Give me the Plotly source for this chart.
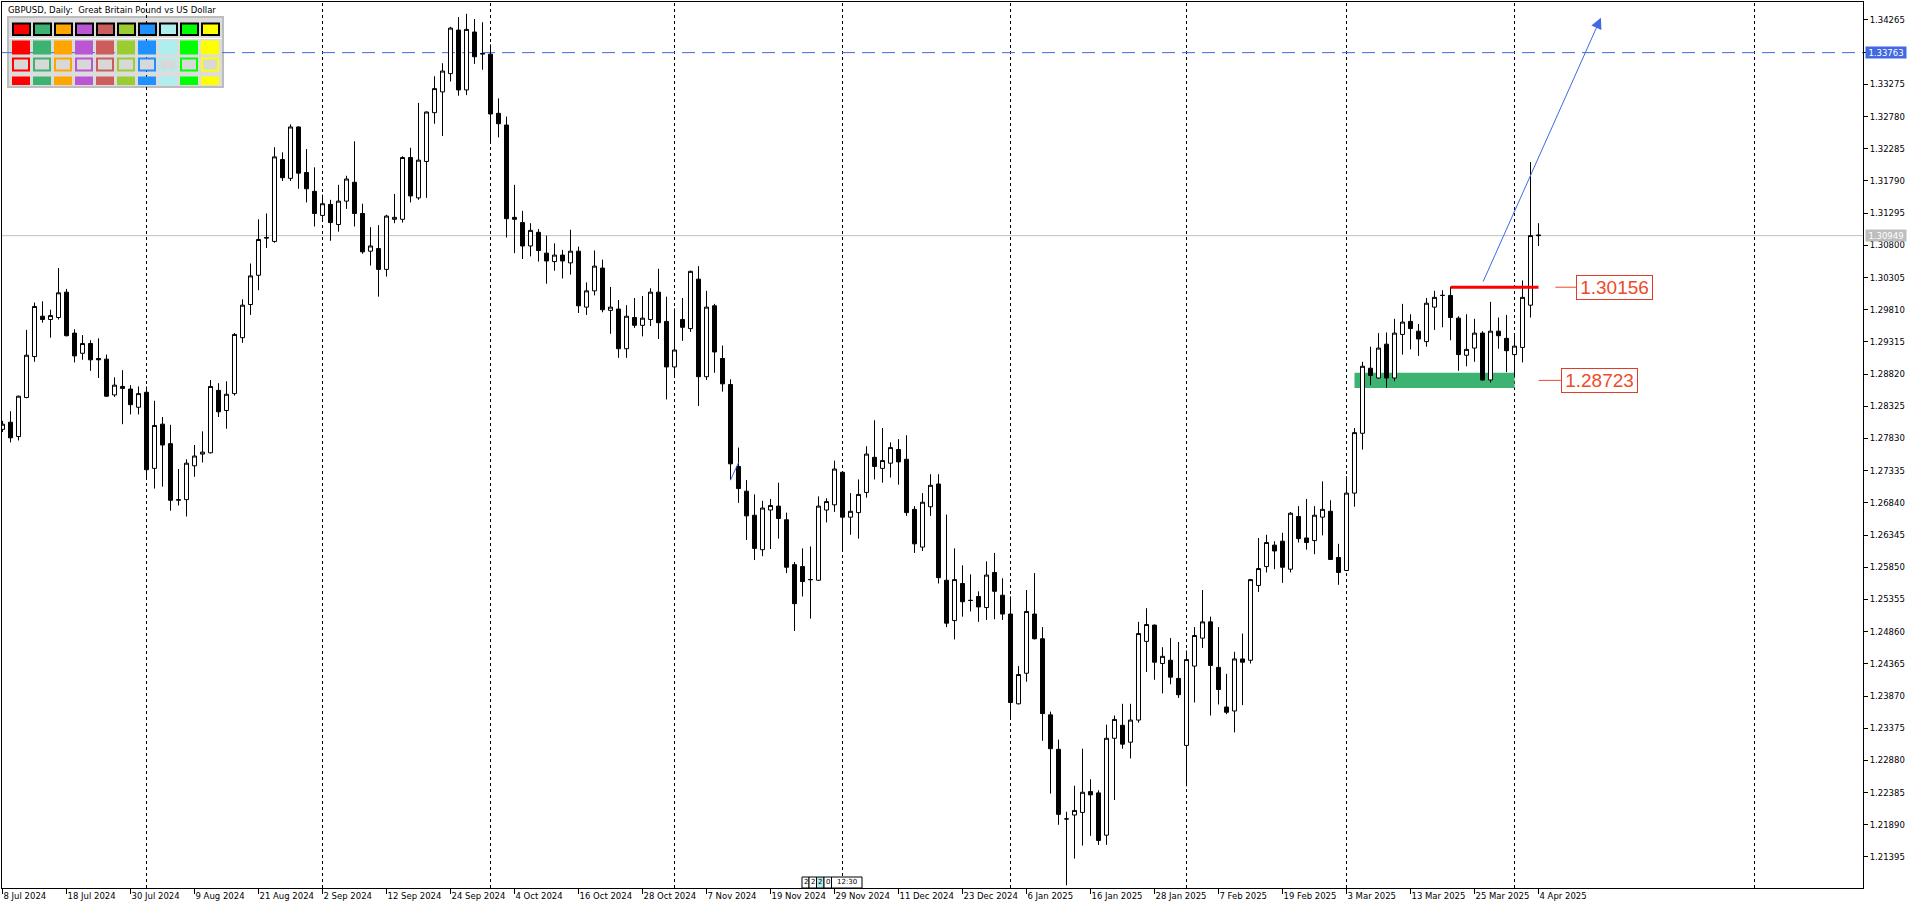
import pandas as pd
import plotly.graph_objects as go

# ---------------- data ----------------
symbol_title = "GBPUSD, Daily:  Great Britain Pound vs US Dollar"

opens = [1.2797, 1.2808, 1.2786, 1.2846, 1.2909, 1.2971, 1.2966, 1.2969, 1.3008, 1.2945,
         1.2914, 1.2929, 1.2906, 1.2905, 1.2850, 1.2863, 1.2859, 1.2831, 1.2854, 1.2737,
         1.2805, 1.2775, 1.2688, 1.2689, 1.2741, 1.2759, 1.2761, 1.2857, 1.2826, 1.2852,
         1.2938, 1.2989, 1.3034, 1.3091, 1.3086, 1.3212, 1.3183, 1.3262, 1.3192, 1.3163,
         1.3126, 1.3143, 1.3112, 1.3148, 1.3177, 1.3129, 1.3071, 1.3075, 1.3043, 1.3120,
         1.3120, 1.3215, 1.3153, 1.3209, 1.3284, 1.3316, 1.3344, 1.3411, 1.3319, 1.3408,
         1.3374, 1.3374, 1.3283, 1.3265, 1.3123, 1.3115, 1.3079, 1.3100, 1.3068, 1.3055,
         1.3065, 1.3053, 1.3071, 1.2985, 1.3010, 1.3045, 1.2980, 1.2982, 1.2921, 1.2969,
         1.2957, 1.2966, 1.3008, 1.2963, 1.2893, 1.2966, 1.2952, 1.3028, 1.2878, 1.2987,
         1.2906, 1.2866, 1.2740, 1.2702, 1.2665, 1.2612, 1.2673, 1.2679, 1.2658, 1.2589,
         1.2586, 1.2566, 1.2565, 1.2673, 1.2681, 1.2731, 1.2662, 1.2669, 1.2700, 1.2754,
         1.2737, 1.2745, 1.2766, 1.2751, 1.2674, 1.2616, 1.2678, 1.2713, 1.2565, 1.2503,
         1.2560, 1.2534, 1.2540, 1.2523, 1.2577, 1.2542, 1.2513, 1.2375, 1.2422, 1.2513,
         1.2475, 1.2358, 1.2305, 1.2198, 1.2204, 1.2208, 1.2240, 1.2238, 1.2173, 1.2322,
         1.2342, 1.2316, 1.2350, 1.2471, 1.2496, 1.2437, 1.2442, 1.2414, 1.2311, 1.2433,
         1.2476, 1.2501, 1.2431, 1.2370, 1.2364, 1.2444, 1.2442, 1.2557, 1.2586, 1.2619,
         1.2625, 1.2582, 1.2663, 1.2630, 1.2626, 1.2662, 1.2671, 1.2600, 1.2580, 1.2699,
         1.2791, 1.2891, 1.2876, 1.2928, 1.2876, 1.2943, 1.2963, 1.2948, 1.2932, 1.2985,
         1.3003, 1.3003, 1.2968, 1.2911, 1.2922, 1.2945, 1.2873, 1.2948, 1.2937, 1.2912,
         1.2923, 1.2988, 1.3096]

highs = [1.2810, 1.2825, 1.2849, 1.2950, 1.2992, 1.2994, 1.2981, 1.3045, 1.3013, 1.2951,
         1.2942, 1.2934, 1.2937, 1.2912, 1.2877, 1.2888, 1.2865, 1.2863, 1.2863, 1.2841,
         1.2816, 1.2804, 1.2736, 1.2751, 1.2773, 1.2794, 1.2873, 1.2868, 1.2871, 1.2945,
         1.2997, 1.3052, 1.3120, 1.3129, 1.3231, 1.3223, 1.3266, 1.3263, 1.3228, 1.3200,
         1.3158, 1.3150, 1.3173, 1.3187, 1.3240, 1.3144, 1.3108, 1.3111, 1.3127, 1.3159,
         1.3217, 1.3230, 1.3299, 1.3286, 1.3340, 1.3360, 1.3416, 1.3431, 1.3436, 1.3428,
         1.3423, 1.3389, 1.3306, 1.3278, 1.3173, 1.3133, 1.3114, 1.3105, 1.3095, 1.3083,
         1.3073, 1.3104, 1.3078, 1.3023, 1.3072, 1.3058, 1.3016, 1.2996, 1.2988, 1.2999,
         1.3002, 1.3014, 1.3044, 1.3001, 1.2983, 1.2999, 1.3041, 1.3048, 1.3010, 1.2990,
         1.2926, 1.2874, 1.2769, 1.2719, 1.2697, 1.2687, 1.2690, 1.2715, 1.2669, 1.2593,
         1.2614, 1.2617, 1.2694, 1.2691, 1.2749, 1.2732, 1.2699, 1.2720, 1.2771, 1.2811,
         1.2799, 1.2777, 1.2782, 1.2788, 1.2679, 1.2699, 1.2728, 1.2728, 1.2666, 1.2614,
         1.2588, 1.2574, 1.2548, 1.2594, 1.2607, 1.2568, 1.2540, 1.2433, 1.2550, 1.2576,
         1.2493, 1.2363, 1.2320, 1.2209, 1.2249, 1.2306, 1.2259, 1.2242, 1.2343, 1.2357,
         1.2375, 1.2375, 1.2501, 1.2522, 1.2497, 1.2462, 1.2476, 1.2470, 1.2457, 1.2493,
         1.2550, 1.2509, 1.2493, 1.2421, 1.2455, 1.2483, 1.2567, 1.2630, 1.2635, 1.2625,
         1.2638, 1.2670, 1.2679, 1.2690, 1.2679, 1.2717, 1.2688, 1.2621, 1.2725, 1.2799,
         1.2901, 1.2924, 1.2945, 1.2946, 1.2967, 1.2990, 1.2974, 1.2959, 1.2999, 1.3010,
         1.3011, 1.3016, 1.2971, 1.2974, 1.2967, 1.2948, 1.2993, 1.2969, 1.2973, 1.2941,
         1.3026, 1.3208, 1.3114]

lows = [1.2793, 1.2777, 1.2780, 1.2845, 1.2901, 1.2961, 1.2938, 1.2966, 1.2940, 1.2900,
        1.2904, 1.2887, 1.2876, 1.2847, 1.2847, 1.2805, 1.2820, 1.2820, 1.2721, 1.2706,
        1.2709, 1.2672, 1.2680, 1.2663, 1.2724, 1.2746, 1.2760, 1.2816, 1.2798, 1.2849,
        1.2930, 1.2973, 1.3011, 1.3076, 1.3084, 1.3179, 1.3179, 1.3167, 1.3146, 1.3109,
        1.3118, 1.3087, 1.3101, 1.3136, 1.3109, 1.3067, 1.3049, 1.3001, 1.3032, 1.3114,
        1.3115, 1.3146, 1.3150, 1.3153, 1.3267, 1.3248, 1.3332, 1.3310, 1.3311, 1.3359,
        1.3350, 1.3237, 1.3246, 1.3092, 1.3068, 1.3059, 1.3063, 1.3055, 1.3021, 1.3041,
        1.3029, 1.3035, 1.2976, 1.2973, 1.3003, 1.2977, 1.2944, 1.2907, 1.2907, 1.2953,
        1.2940, 1.2956, 1.2936, 1.2843, 1.2878, 1.2933, 1.2947, 1.2833, 1.2873, 1.2884,
        1.2855, 1.2719, 1.2684, 1.2627, 1.2596, 1.2602, 1.2613, 1.2629, 1.2576, 1.2487,
        1.2540, 1.2506, 1.2564, 1.2654, 1.2670, 1.2612, 1.2635, 1.2629, 1.2692, 1.2720,
        1.2715, 1.2723, 1.2712, 1.2664, 1.2607, 1.2610, 1.2664, 1.2560, 1.2493, 1.2474,
        1.2509, 1.2517, 1.2501, 1.2504, 1.2505, 1.2504, 1.2351, 1.2374, 1.2409, 1.2474,
        1.2318, 1.2237, 1.2189, 1.2096, 1.2137, 1.2157, 1.2172, 1.2158, 1.2158, 1.2227,
        1.2306, 1.2291, 1.2346, 1.2424, 1.2412, 1.2391, 1.2405, 1.2384, 1.2248, 1.2377,
        1.2461, 1.2357, 1.2374, 1.2359, 1.2331, 1.2373, 1.2437, 1.2547, 1.2577, 1.2582,
        1.2561, 1.2577, 1.2623, 1.2612, 1.2605, 1.2634, 1.2596, 1.2558, 1.2579, 1.2678,
        1.2766, 1.2865, 1.2875, 1.2861, 1.2871, 1.2912, 1.2920, 1.2910, 1.2924, 1.2950,
        1.2954, 1.2934, 1.2887, 1.2894, 1.2901, 1.2872, 1.2869, 1.2921, 1.2885, 1.2878,
        1.2900, 1.2969, 1.3079]

closes = [1.2805, 1.2784, 1.2848, 1.2911, 1.2986, 1.2966, 1.2972, 1.3007, 1.2941, 1.2910,
          1.2929, 1.2904, 1.2904, 1.2848, 1.2865, 1.2860, 1.2835, 1.2852, 1.2735, 1.2803,
          1.2773, 1.2688, 1.2689, 1.2745, 1.2756, 1.2762, 1.2863, 1.2824, 1.2851, 1.2943,
          1.2988, 1.3033, 1.3089, 1.3092, 1.3216, 1.3184, 1.3262, 1.3191, 1.3167, 1.3129,
          1.3144, 1.3115, 1.3148, 1.3182, 1.3129, 1.3070, 1.3079, 1.3043, 1.3125, 1.3123,
          1.3215, 1.3156, 1.3211, 1.3285, 1.3321, 1.3348, 1.3414, 1.3319, 1.3412, 1.3370,
          1.3375, 1.3282, 1.3267, 1.3121, 1.3120, 1.3079, 1.3103, 1.3072, 1.3056, 1.3065,
          1.3056, 1.3071, 1.2987, 1.3010, 1.3048, 1.2981, 1.2985, 1.2921, 1.2971, 1.2957,
          1.2968, 1.3008, 1.2961, 1.2893, 1.2919, 1.2954, 1.3040, 1.2878, 1.2985, 1.2916,
          1.2867, 1.2744, 1.2706, 1.2664, 1.2614, 1.2676, 1.2680, 1.2660, 1.2585, 1.2529,
          1.2563, 1.2566, 1.2679, 1.2686, 1.2736, 1.2662, 1.2671, 1.2697, 1.2759, 1.2740,
          1.2749, 1.2769, 1.2747, 1.2669, 1.2621, 1.2685, 1.2711, 1.2569, 1.2499, 1.2566,
          1.2532, 1.2534, 1.2524, 1.2573, 1.2548, 1.2513, 1.2377, 1.2420, 1.2517, 1.2475,
          1.2360, 1.2306, 1.2205, 1.2198, 1.2211, 1.2239, 1.2235, 1.2165, 1.2322, 1.2351,
          1.2313, 1.2350, 1.2483, 1.2497, 1.2439, 1.2448, 1.2416, 1.2389, 1.2443, 1.2480,
          1.2501, 1.2434, 1.2397, 1.2362, 1.2444, 1.2439, 1.2566, 1.2583, 1.2623, 1.2610,
          1.2585, 1.2668, 1.2629, 1.2623, 1.2665, 1.2674, 1.2597, 1.2577, 1.2699, 1.2792,
          1.2894, 1.2880, 1.2922, 1.2876, 1.2945, 1.2962, 1.2952, 1.2936, 1.2991, 1.3000,
          1.3003, 1.2969, 1.2912, 1.2920, 1.2945, 1.2873, 1.2948, 1.2941, 1.2918, 1.2925,
          1.3000, 1.3095, 1.3095]

# trading days shown (weekdays, broker closed on 25 Dec and 1 Jan)
closed_days = ["2024-12-25", "2025-01-01"]
dates = [d for d in pd.bdate_range("2024-07-08", "2025-04-04")
         if d.strftime("%Y-%m-%d") not in closed_days]
bar_idx = list(range(len(dates)))

# price scale labels
price_ticks = ["1.21395", "1.21890", "1.22385", "1.22880", "1.23375", "1.23870", "1.24365",
               "1.24860", "1.25355", "1.25850", "1.26345", "1.26840", "1.27335", "1.27830",
               "1.28325", "1.28820", "1.29315", "1.29810", "1.30305", "1.30800", "1.31295",
               "1.31790", "1.32285", "1.32780", "1.33275", "1.33770", "1.34265"]

# levels / drawing objects
bid_price = 1.30949
alert_level = 1.33763
resistance_level = 1.30156
resistance_start_bar = 181
zone_level = 1.28723
zone_low, zone_high = 1.28606, 1.28841
zone_start_bar, zone_end_bar = 169, 189
arrow_from = (185, 1.3022)
arrow_to = (199.8, 1.3430)
small_line_from = (91, 1.2719)
small_line_to = (92, 1.2746)

palette_colors = ["#FF0000", "#3CB371", "#FFA500", "#BA55D3", "#CD5C5C",
                  "#9ACD32", "#1E90FF", "#AFEEEE", "#00FF00", "#FFFF00"]

# ---------------- figure ----------------
W, H = 1916, 911
ML, MR, MT, MB = 2, 53, 2, 23
PW, PH = W - ML - MR, H - MT - MB
FONT = "DejaVu Sans"
ORANGE = "#EE4B2B"
BLUE = "#4169E1"


def px(x, y):
    """pixel position inside the chart window -> paper coords"""
    return (x - ML) / PW, 1 - (y - MT) / PH


fig = go.Figure()
fig.add_trace(go.Candlestick(
    x=bar_idx, open=opens, high=highs, low=lows, close=closes,
    increasing=dict(line=dict(color="black", width=1), fillcolor="white"),
    decreasing=dict(line=dict(color="black", width=1), fillcolor="black"),
    whiskerwidth=0, showlegend=False, hoverinfo="skip"))

shapes = []
# palette panel background (below everything)
x0, y0 = px(8, 17)
x1, y1 = px(223, 87)
shapes.append(dict(type="rect", xref="paper", yref="paper", x0=x0, y0=y0, x1=x1, y1=y1,
                   fillcolor="#DCDCDC", line=dict(color="#BDBDBD", width=2), layer="below"))

# month separators
month_starts = [i for i in range(1, len(dates)) if dates[i].month != dates[i - 1].month]
future_sep = len(dates) - 1 + (pd.Timestamp("2025-05-01") - dates[-1]).days
for i in month_starts + [future_sep]:
    shapes.append(dict(type="line", xref="x", yref="paper", x0=i, x1=i, y0=0, y1=1,
                       line=dict(color="black", width=1, dash="3px,3px"), layer="below"))

# bid line and alert level
shapes.append(dict(type="line", xref="paper", yref="y", x0=0, x1=1, y0=bid_price, y1=bid_price,
                   line=dict(color="#C0C0C0", width=1), layer="below"))
shapes.append(dict(type="line", xref="paper", yref="y", x0=0, x1=1, y0=alert_level, y1=alert_level,
                   line=dict(color=BLUE, width=1, dash="13px,7px"), layer="below"))
# support zone
shapes.append(dict(type="rect", xref="x", yref="y", x0=zone_start_bar, x1=zone_end_bar,
                   y0=zone_low, y1=zone_high, fillcolor="#3CB371", line=dict(width=0), layer="below"))
# resistance line
shapes.append(dict(type="line", xref="x", yref="y", x0=resistance_start_bar, x1=len(dates) - 1,
                   y0=resistance_level, y1=resistance_level,
                   line=dict(color="#FF0000", width=3), layer="above"))
# leader lines of price labels
shapes.append(dict(type="line", xref="x", yref="y", x0=194.1, x1=196.7,
                   y0=resistance_level, y1=resistance_level, line=dict(color=ORANGE, width=1)))
shapes.append(dict(type="line", xref="x", yref="y", x0=192.0, x1=194.8,
                   y0=zone_level, y1=zone_level, line=dict(color=ORANGE, width=1)))
# small blue segment
shapes.append(dict(type="line", xref="x", yref="y", x0=small_line_from[0], y0=small_line_from[1],
                   x1=small_line_to[0], y1=small_line_to[1], line=dict(color=BLUE, width=1)))

# palette squares
sep_a = px(9, 38.5)
sep_b = px(222, 38.5)
shapes.append(dict(type="line", xref="paper", yref="paper", x0=sep_a[0], y0=sep_a[1],
                   x1=sep_b[0], y1=sep_b[1], line=dict(color="white", width=1), layer="above"))
for c, col in enumerate(palette_colors):
    left = 12 + 21 * c
    # row 1 : bordered black
    a = px(left + 1, 23.5); b = px(left + 18, 35)
    shapes.append(dict(type="rect", xref="paper", yref="paper", x0=a[0], y0=a[1], x1=b[0], y1=b[1],
                       fillcolor=col, line=dict(color="black", width=2), layer="above"))
    # row 2 : solid
    a = px(left, 40.5); b = px(left + 18, 54.5)
    shapes.append(dict(type="rect", xref="paper", yref="paper", x0=a[0], y0=a[1], x1=b[0], y1=b[1],
                       fillcolor=col, line=dict(width=0), layer="above"))
    # row 3 : outlined
    a = px(left + 1, 58.5); b = px(left + 17, 70.5)
    shapes.append(dict(type="rect", xref="paper", yref="paper", x0=a[0], y0=a[1], x1=b[0], y1=b[1],
                       fillcolor="#D8D8D8", line=dict(color=col, width=2), layer="above"))
    # row 4 : thin solid
    a = px(left, 76.5); b = px(left + 18, 85)
    shapes.append(dict(type="rect", xref="paper", yref="paper", x0=a[0], y0=a[1], x1=b[0], y1=b[1],
                       fillcolor=col, line=dict(width=0), layer="above"))

# little time-scale markers at bottom
marker_texts = ["2", "2", "2", "0", "12:30"]
marker_edges = [802, 809, 816.5, 824, 831.5, 862]
marker_fill = ["white", "white", "#AFEEEE", "white", "white"]
annotations = []
for k, t in enumerate(marker_texts):
    a = px(marker_edges[k], 877); b = px(marker_edges[k + 1], 888)
    shapes.append(dict(type="rect", xref="paper", yref="paper", x0=a[0], y0=b[1], x1=b[0], y1=a[1],
                       fillcolor=marker_fill[k], line=dict(color="black", width=1), layer="above"))
    annotations.append(dict(xref="paper", yref="paper", x=(a[0] + b[0]) / 2, y=(a[1] + b[1]) / 2,
                            text=t, showarrow=False, xanchor="center", yanchor="middle",
                            font=dict(family=FONT, size=7, color="black")))

# title
tx, ty = px(6, 9.5)
annotations.append(dict(xref="paper", yref="paper", x=tx, y=ty, text=symbol_title, showarrow=False,
                        xanchor="left", yanchor="middle", font=dict(family=FONT, size=8.5, color="black")))
# price tags on the scale
for price, bg, txt in [(alert_level, BLUE, "1.33763"), (bid_price, "#BEBEBE", "1.30949")]:
    annotations.append(dict(xref="paper", yref="y", x=1, y=price, text=txt, showarrow=False,
                            xanchor="left", yanchor="middle", xshift=2, bgcolor=bg, borderpad=0,
                            width=40, height=11, font=dict(family=FONT, size=8.5, color="white")))
# level labels
for xb, lvl in [(196.7, resistance_level), (194.8, zone_level)]:
    annotations.append(dict(xref="x", yref="y", x=xb, y=lvl, text=f"{lvl:.5f}", showarrow=False,
                            xanchor="left", yanchor="middle", bgcolor="white", bordercolor="#E03C28",
                            borderwidth=1, borderpad=1, width=73, height=21,
                            font=dict(family="Liberation Sans", size=19, color=ORANGE)))
# arrow
annotations.append(dict(xref="x", yref="y", x=arrow_to[0], y=arrow_to[1], ax=arrow_from[0], ay=arrow_from[1],
                        axref="x", ayref="y", text="", showarrow=True, arrowhead=2, arrowsize=2.2,
                        arrowwidth=1, arrowcolor=BLUE, standoff=0))

tick_idx = bar_idx[::8]
tick_text = [f"{dates[i].day} {dates[i].strftime('%b')} {dates[i].year}" for i in tick_idx]
ytick_vals = [float(v) for v in price_ticks]

fig.update_layout(
    width=W, height=H, margin=dict(l=ML, r=MR, t=MT, b=MB),
    paper_bgcolor="white", plot_bgcolor="white",
    boxgap=0.5, boxgroupgap=0,
    showlegend=False, shapes=shapes, annotations=annotations,
    xaxis=dict(range=[-0.0625, 232.5625], tickmode="array", tickvals=tick_idx, ticktext=tick_text,
               ticks="outside", ticklen=5, tickcolor="black", tickangle=0,
               ticklabelposition="outside right",
               showline=True, linecolor="black", linewidth=1, mirror=True,
               showgrid=False, zeroline=False, rangeslider=dict(visible=False),
               tickfont=dict(family=FONT, size=8.5, color="black")),
    yaxis=dict(range=[1.209177, 1.345417], side="right", tickmode="array",
               tickvals=ytick_vals, ticktext=price_ticks,
               ticks="outside", ticklen=4, tickcolor="black",
               showline=True, linecolor="black", linewidth=1, mirror=True,
               showgrid=False, zeroline=False,
               tickfont=dict(family=FONT, size=8.5, color="black")),
)

fig.write_html("out.html", config={"displayModeBar": False},
               post_script="document.body.style.margin='0px';"
                           "document.documentElement.style.overflow='hidden';")
